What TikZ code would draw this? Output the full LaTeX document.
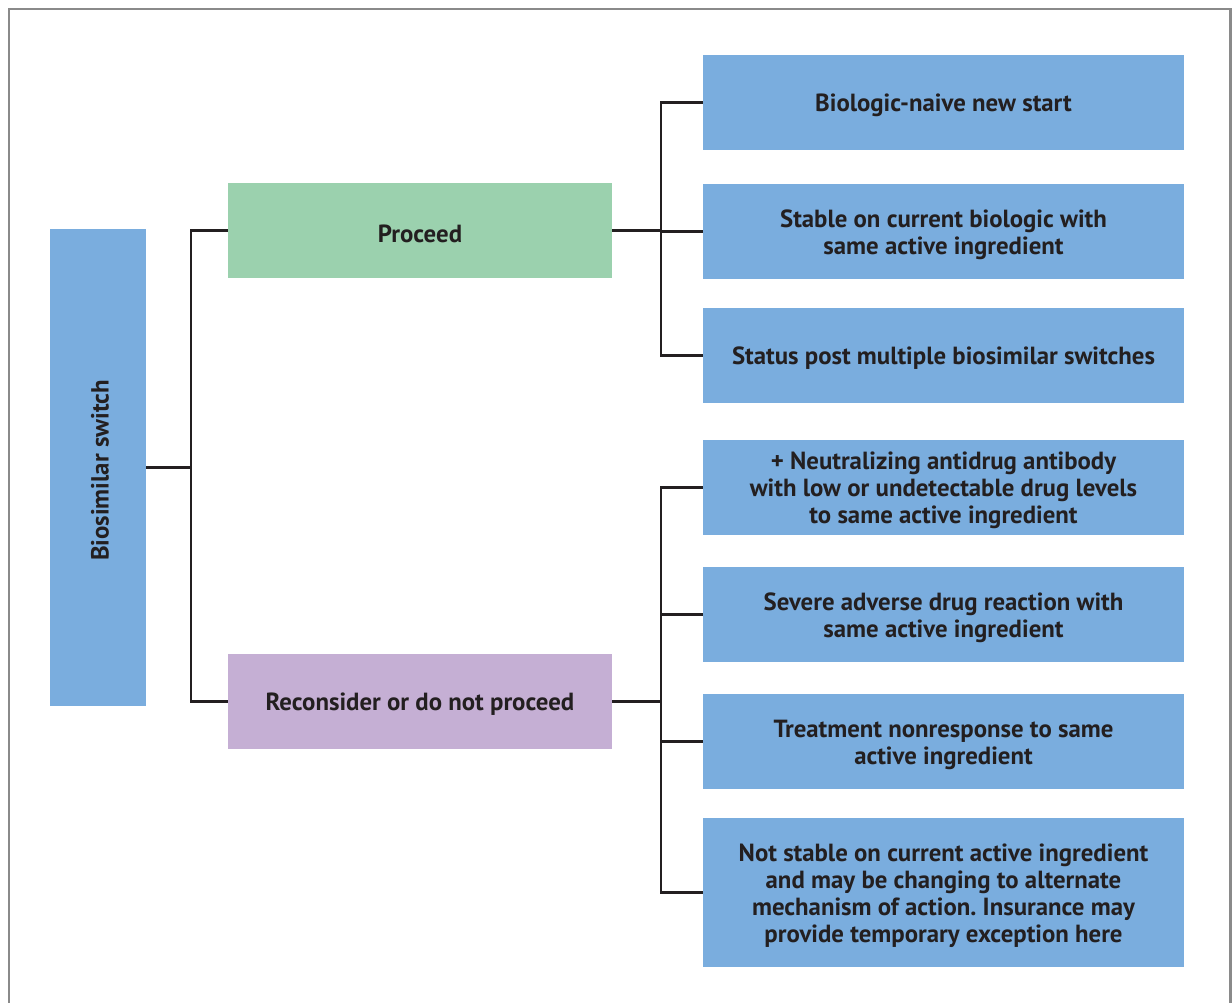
\documentclass[tikz,border=0pt]{standalone}
\usepackage{fontspec}
\setmainfont{PT Sans}
\frenchspacing
\definecolor{boxblue}{HTML}{7AADDE}
\definecolor{boxgreen}{HTML}{9BD1AE}
\definecolor{boxpurple}{HTML}{C5AFD4}
\definecolor{txt}{HTML}{231F20}
\definecolor{frame}{HTML}{8A8A8A}
\newcommand\lbox[5]{%
  \node[#1] (#2) at (#3) {};
  \node[lbl, #4] (#2t) at (#2.center) {#5};}
\begin{document}
\begin{tikzpicture}[x=0.5pt,y=-0.5pt,
  box/.style={rectangle, inner sep=0pt},
  lbl/.style={inner sep=0pt, align=center, text=txt, yshift=-1.5pt,
    font=\fontsize{12.4}{13.5}\selectfont\bfseries},
  rbox/.style={box, fill=boxblue, minimum width=240.5pt, minimum height=47.5pt},
  mbox/.style={box, minimum width=192pt, minimum height=47.5pt},
  conn/.style={draw=txt, line width=1.3pt}]
\useasboundingbox (0,0) rectangle (1232,1002);
\fill[white] (0,0) rectangle (1232,1002);
\draw[frame, line width=1.3pt] (9,9) rectangle (1230.5,1030);
% root
\node[box, fill=boxblue, minimum width=48pt, minimum height=238.5pt] (bio) at (98,467.5) {};
\node[lbl, yshift=0pt, xshift=1pt, rotate=90] (biot) at (bio.center) {Biosimilar switch};
% middle
\lbox{mbox, fill=boxgreen}{pro}{420,230.5}{}{Proceed}
\lbox{mbox, fill=boxpurple}{rec}{420,701.5}{}{Reconsider or do not proceed}
% right
\lbox{rbox}{b1}{943.5,102.5}{}{Biologic-naive new start}
\lbox{rbox}{b2}{943.5,231.5}{}{Stable on current biologic with\\same active ingredient}
\lbox{rbox}{b3}{943.5,355.5}{}{Status post multiple biosimilar switches}
\lbox{rbox}{b4}{943.5,487.5}{}{+ Neutralizing antidrug antibody\\with low or undetectable drug levels\\to same active ingredient}
\lbox{rbox}{b5}{943.5,614.5}{}{Severe adverse drug reaction with\\same active ingredient}
\lbox{rbox}{b6}{943.5,741.5}{}{Treatment nonresponse to same\\active ingredient}
\lbox{rbox, minimum height=74.5pt}{b7}{943.5,892.5}{}{Not stable on current active ingredient\\and may be changing to alternate\\mechanism of action. Insurance may\\provide temporary exception here}
% junctions
\coordinate (t1) at (191,0);
\coordinate (t2) at (661,0);
% connectors
\draw[conn] (bio.east) -- (bio.east -| t1);
\draw[conn] (pro.west) -| (t1 |- rec.west) -- (rec.west);
\draw[conn] (pro.east) -- (pro.east -| t2);
\draw[conn] (b1.west) -| (t2 |- b3.west) -- (b3.west);
\draw[conn] (b2.west) -- (b2.west -| t2);
\draw[conn] (rec.east) -- (rec.east -| t2);
\draw[conn] (b4.west) -| (t2 |- b7.west) -- (b7.west);
\draw[conn] (b5.west) -- (b5.west -| t2);
\draw[conn] (b6.west) -- (b6.west -| t2);
\end{tikzpicture}
\end{document}
